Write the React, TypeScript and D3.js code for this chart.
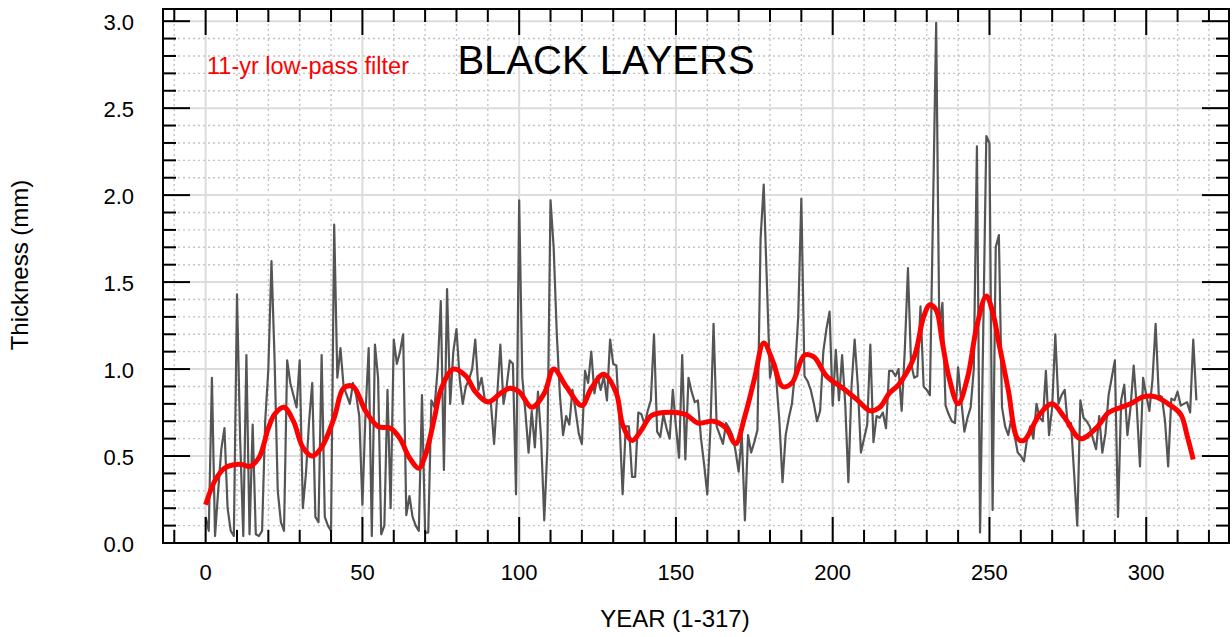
import React, { useRef, useEffect } from 'react';
import * as d3 from 'd3';

// yearly black-layer thickness (mm), years 0..316
const THICKNESS: number[] = [
  0.15, 0.07, 0.95, 0.04, 0.3, 0.54, 0.66, 0.2, 0.07, 0.04,
  1.43, 0.6, 0.04, 1.08, 0.05, 0.68, 0.05, 0.04, 0.07, 0.7,
  1.0, 1.62, 1.05, 0.3, 0.12, 0.07, 1.05, 0.92, 0.85, 0.78,
  1.05, 0.2, 0.4, 0.7, 0.92, 0.15, 0.12, 1.08, 0.15, 0.1,
  0.07, 1.83, 0.95, 1.12, 0.9, 0.85, 0.8, 0.92, 0.85, 0.73,
  0.22, 0.75, 1.12, 0.04, 1.14, 0.95, 0.05, 0.1, 0.88, 0.2,
  1.17, 1.03, 1.1, 1.2, 0.16, 0.27, 0.15, 0.1, 0.07, 0.85,
  0.06, 0.06, 0.82, 0.78, 1.0, 1.39, 0.42, 1.46, 0.8, 1.1,
  1.23, 0.95, 0.8, 0.9, 0.94, 1.0, 1.17, 0.88, 0.95, 0.83,
  0.82, 0.8, 0.57, 0.85, 1.14, 0.8, 0.9, 1.05, 1.03, 0.28,
  1.97, 0.95, 0.75, 0.52, 0.76, 0.55, 0.87, 0.6, 0.13, 0.55,
  1.97, 1.7, 1.2, 0.85, 0.62, 0.73, 0.68, 0.88, 0.76, 0.63,
  0.57, 0.99, 0.92, 1.1, 0.86, 0.96, 0.88, 0.96, 0.82, 1.17,
  1.03, 1.02, 0.7, 0.28, 0.67, 0.67, 0.38, 0.38, 0.75, 0.74,
  0.68, 0.76, 0.82, 1.2, 0.64, 0.61, 0.74, 0.66, 0.6, 0.88,
  0.67, 0.49, 1.08, 0.48, 0.95, 0.87, 0.81, 0.82, 0.6, 0.45,
  0.28, 0.66, 1.26, 0.67, 0.62, 0.57, 0.69, 0.66, 0.62, 0.53,
  0.41, 0.62, 0.13, 0.62, 0.52, 0.58, 0.65, 1.75, 2.06, 1.5,
  0.95, 1.05, 0.94, 0.7, 0.35, 0.62, 0.72, 0.8, 0.99, 1.3,
  1.98, 0.96, 0.93, 0.88, 0.8, 0.7, 0.76, 1.1, 1.23, 1.33,
  0.79, 1.11, 0.82, 1.08, 0.8, 0.35, 0.9, 1.17, 0.91, 0.52,
  0.6, 0.68, 1.14, 0.58, 0.73, 0.72, 0.75, 0.66, 0.99, 0.99,
  0.96, 1.0, 0.76, 1.11, 1.58, 1.03, 0.95, 0.96, 1.36, 0.9,
  0.88, 0.85, 1.91, 2.99, 1.23, 1.38, 0.79, 0.74, 0.7, 0.69,
  1.01, 0.82, 0.64, 0.72, 0.78, 1.0, 2.28, 0.06, 1.2, 2.34,
  2.3, 0.19, 1.7, 1.77, 0.78, 0.67, 0.62, 0.72, 0.62, 0.52,
  0.5, 0.47, 0.6, 0.67, 0.6, 0.8, 0.72, 0.7, 0.99, 0.62,
  0.78, 1.2, 0.8, 0.85, 0.88, 0.67, 0.69, 0.4, 0.1, 0.82,
  0.72, 0.7, 0.67, 0.6, 0.54, 0.73, 0.52, 0.63, 0.85, 0.95,
  1.05, 0.15, 0.82, 0.91, 0.62, 0.78, 1.02, 0.78, 0.44, 0.95,
  0.85, 0.76, 0.94, 1.26, 0.85, 0.84, 0.7, 0.44, 0.83, 0.82,
  0.87, 0.79, 0.8, 0.81, 0.75, 1.17, 0.82,
];

// 11-yr low-pass filter
const FILTER_YEARS = [
  0, 3, 6, 9, 12, 14, 17, 20, 22, 25, 28, 31, 34, 37, 41, 44, 47, 51, 55, 59,
  62, 65, 68, 70, 73, 75, 79, 83, 86, 90, 94, 97, 100, 104, 108, 111, 115, 120, 123, 127,
  131, 133, 136, 139, 142, 146, 153, 157, 162, 166, 169, 172, 175, 178, 181, 184, 187, 191, 194, 198,
  204, 208, 212, 215, 218, 221, 226, 229, 231, 233, 235, 237, 240, 243, 246, 249, 251, 253, 256, 259,
  261, 266, 270, 274, 279, 284, 288, 292, 295, 299, 303, 307, 311, 313, 315,
];
const FILTER_VALUES = [
  0.22, 0.36, 0.43, 0.45, 0.45, 0.44, 0.49, 0.66, 0.74, 0.78, 0.7, 0.55, 0.5, 0.55, 0.72, 0.89, 0.9, 0.76, 0.67, 0.66,
  0.6, 0.49, 0.43, 0.5, 0.72, 0.88, 1.0, 0.96, 0.87, 0.81, 0.86, 0.89, 0.87, 0.78, 0.86, 1.0, 0.9, 0.79, 0.89, 0.97,
  0.86, 0.68, 0.59, 0.65, 0.73, 0.75, 0.74, 0.69, 0.7, 0.66, 0.57, 0.73, 0.94, 1.15, 1.04, 0.9, 0.92, 1.08, 1.07, 0.96,
  0.88, 0.82, 0.76, 0.78, 0.86, 0.91, 1.07, 1.3, 1.37, 1.34, 1.15, 0.96, 0.8, 0.95, 1.25, 1.42, 1.33, 1.15, 0.88, 0.6,
  0.59, 0.74, 0.8, 0.72, 0.6, 0.66, 0.75, 0.78, 0.8, 0.84, 0.84, 0.8, 0.74, 0.62, 0.48,
];

const X_TICKS = [0, 50, 100, 150, 200, 250, 300];
const Y_TICKS = [0, 0.5, 1, 1.5, 2, 2.5, 3];

const FONT = 'Liberation Sans, Arial, Helvetica, sans-serif';

const App: React.FC = () => {
  const svgRef = useRef<SVGSVGElement>(null);

  useEffect(() => {
    if (!svgRef.current) return;
    const left = 163, right = 1229, top = 9, bottom = 543;

    const svg = d3.select(svgRef.current);
    svg.selectAll('*').remove();

    const x = d3.scaleLinear().domain([-13.6, 326.4]).range([left, right]);
    const y = d3.scaleLinear().domain([0, 3.07]).range([bottom, top]);

    const xMinor = d3.range(-10, 321, 10).filter(v => v % 50 !== 0);
    const yMinor = d3.range(0, 31).filter(v => v % 5 !== 0).map(v => v / 10);

    // Minor grid (dotted)
    const grid = svg.append('g');
    grid.selectAll('line.vx').data(xMinor).join('line')
      .attr('x1', d => x(d)).attr('x2', d => x(d)).attr('y1', top).attr('y2', bottom)
      .attr('stroke', '#c4c4c4').attr('stroke-width', 1.4).attr('stroke-dasharray', '2,3');
    grid.selectAll('line.hy').data(yMinor).join('line')
      .attr('y1', d => y(d)).attr('y2', d => y(d)).attr('x1', left).attr('x2', right)
      .attr('stroke', '#c4c4c4').attr('stroke-width', 1.4).attr('stroke-dasharray', '2,3');

    // Major grid (solid)
    const major = svg.append('g');
    major.selectAll('line.mx').data(X_TICKS).join('line')
      .attr('x1', d => x(d)).attr('x2', d => x(d)).attr('y1', top).attr('y2', bottom)
      .attr('stroke', '#dcdcdc').attr('stroke-width', 2);
    major.selectAll('line.my').data(Y_TICKS).join('line')
      .attr('y1', d => y(d)).attr('y2', d => y(d)).attr('x1', left).attr('x2', right)
      .attr('stroke', '#dcdcdc').attr('stroke-width', 2);

    // Raw series
    const raw = d3.line<number>().x((_, i) => x(i)).y(d => y(d));
    svg.append('path')
      .datum(THICKNESS)
      .attr('d', raw)
      .attr('fill', 'none')
      .attr('stroke', '#555555')
      .attr('stroke-width', 2.2)
      .attr('stroke-linejoin', 'round');

    // Filtered series
    const filt = d3.line<number>()
      .x((_, i) => x(FILTER_YEARS[i]))
      .y(d => y(d))
      .curve(d3.curveCatmullRom);
    svg.append('path')
      .datum(FILTER_VALUES)
      .attr('d', filt)
      .attr('fill', 'none')
      .attr('stroke', '#ff0000')
      .attr('stroke-width', 5)
      .attr('stroke-linecap', 'butt');

    // Frame
    svg.append('rect')
      .attr('x', left).attr('y', top).attr('width', right - left).attr('height', bottom - top)
      .attr('fill', 'none').attr('stroke', '#000').attr('stroke-width', 2);

    // Inward ticks on all four sides
    const ticks = svg.append('g').attr('stroke', '#000').attr('stroke-width', 2);
    const xAll = d3.range(-10, 321, 10);
    const yAll = d3.range(0, 31).map(v => v / 10);
    const xLen = (d: number) => (d % 50 === 0 ? 26 : 13);
    const yLen = (d: number) => (Math.round(d * 10) % 5 === 0 ? 27 : 13);
    ticks.selectAll('line.b').data(xAll).join('line')
      .attr('x1', d => x(d)).attr('x2', d => x(d)).attr('y1', bottom).attr('y2', d => bottom - xLen(d));
    ticks.selectAll('line.t').data(xAll).join('line')
      .attr('x1', d => x(d)).attr('x2', d => x(d)).attr('y1', top).attr('y2', d => top + xLen(d));
    ticks.selectAll('line.l').data(yAll).join('line')
      .attr('y1', d => y(d)).attr('y2', d => y(d)).attr('x1', left).attr('x2', d => left + yLen(d));
    ticks.selectAll('line.r').data(yAll).join('line')
      .attr('y1', d => y(d)).attr('y2', d => y(d)).attr('x1', right).attr('x2', d => right - yLen(d));

    // Tick labels
    svg.append('g').selectAll('text').data(X_TICKS).join('text')
      .attr('x', d => x(d)).attr('y', 580)
      .attr('text-anchor', 'middle')
      .attr('font-family', FONT).attr('font-size', 22).attr('fill', '#000')
      .text(d => String(d));
    svg.append('g').selectAll('text').data(Y_TICKS).join('text')
      .attr('x', 134).attr('y', d => y(d) + 9)
      .attr('text-anchor', 'end')
      .attr('font-family', FONT).attr('font-size', 22).attr('fill', '#000')
      .text(d => d3.format('.1f')(d));

    // Axis titles
    svg.append('text')
      .attr('x', 675).attr('y', 627)
      .attr('text-anchor', 'middle')
      .attr('font-family', FONT).attr('font-size', 24).attr('fill', '#000')
      .text('YEAR (1-317)');
    svg.append('text')
      .attr('transform', 'translate(28,265) rotate(-90)')
      .attr('text-anchor', 'middle')
      .attr('font-family', FONT).attr('font-size', 24).attr('fill', '#000')
      .text('Thickness (mm)');

    // Title and legend
    svg.append('text')
      .attr('x', 606).attr('y', 74)
      .attr('text-anchor', 'middle')
      .attr('font-family', FONT).attr('font-size', 40).attr('fill', '#000')
      .text('BLACK LAYERS');
    svg.append('text')
      .attr('x', 207).attr('y', 74)
      .attr('font-family', FONT).attr('font-size', 23.5).attr('fill', '#ff0000')
      .text('11-yr low-pass filter');
  }, []);

  return (
    <svg
      ref={svgRef}
      width={1232}
      height={637}
      style={{ position: 'absolute', left: 0, top: 0, background: '#fff' }}
    />
  );
};

export default App;
